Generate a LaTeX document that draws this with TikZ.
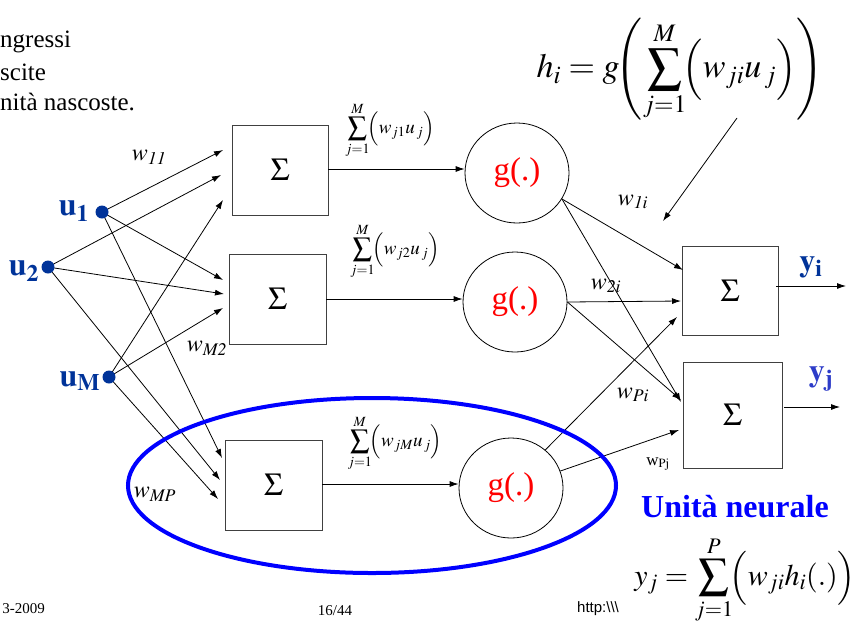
\documentclass[tikz,border=0pt]{standalone}
\usepackage{mathptmx}
\usepackage{fontspec}
\setmainfont{Liberation Serif}
\setsansfont{Liberation Sans}
\usetikzlibrary{arrows.meta,shapes.geometric,calc}
\definecolor{ublue}{RGB}{0,51,153}
\definecolor{yblue}{RGB}{45,60,200}
\begin{document}
\begin{tikzpicture}[x=1pt,y=-1pt,
  box/.style={draw=black!75,line width=1pt,minimum width=96pt,minimum height=90pt,inner sep=0pt,font=\fontsize{32}{34}\selectfont},
  gnode/.style={draw,ellipse,line width=0.8pt,minimum width=104pt,minimum height=100pt,inner sep=0pt,text=red,font=\fontsize{33}{35}\selectfont},
  conn/.style={line width=0.8pt,-{Latex[length=9pt,width=6pt]}},
  dot/.style={circle,fill=ublue,inner sep=0pt,minimum size=13pt},
  ulab/.style={text=ublue,font=\fontsize{32}{34}\selectfont,inner sep=0pt},
  wlab/.style={font=\fontsize{24}{26}\selectfont,inner sep=0pt},
  sumlab/.style={font=\fontsize{19}{22}\selectfont,inner sep=0pt},
  txt/.style={font=\fontsize{25}{27}\selectfont,inner sep=0pt},
  foot/.style={font=\fontsize{15}{17}\selectfont,inner sep=0pt},
]
\useasboundingbox (0,0) rectangle (858,622);
\clip (0,0) rectangle (858,622);

% top-left text
\node[txt,anchor=west] (t1) at (0,42) {ngressi};
\node[txt,anchor=west] (t2) at (0,72) {scite};
\node[txt,anchor=west] (t3) at (0,102) {nità nascoste.};

% input positions
\coordinate (u1) at (102,212);
\coordinate (u2) at (48,267);
\coordinate (uM) at (109,377);

% summation boxes
\node[box] (s1) at (280,170) {$\Sigma$};
\node[box,minimum width=97pt] (s2) at (277.5,299) {$\Sigma$};
\node[box,minimum width=97pt] (s3) at (273.5,485) {$\Sigma$};

% activation units
\node[gnode] (g1) at (517,173) {g(.)};
\node[gnode] (g2) at (515,302) {g(.)};
\node[gnode] (g3) at (511,488) {g(.)};

% output boxes
\node[box,minimum height=89pt] (si) at (730,290.5) {$\Sigma$};
\node[box,minimum width=99pt,minimum height=106pt] (sj) at (732.5,415) {$\Sigma$};

% arrow end points
\coordinate (c11) at (223,150);
\coordinate (c12) at (221,175);
\coordinate (c13) at (223,200);
\coordinate (c21) at (223,280);
\coordinate (c22) at (224,294);
\coordinate (c23) at (223,308);
\coordinate (c31) at (222,458);
\coordinate (c32) at (220,480);
\coordinate (c33) at (218,499);

\draw[conn] (u1) -- (c11);
\draw[conn] (u2) -- (c12);
\draw[conn] (uM) -- (c13);
\draw[conn] (u1) -- (c21);
\draw[conn] (u2) -- (c22);
\draw[conn] (uM) -- (c23);
\draw[conn] (u1) -- (c31);
\draw[conn] (u2) -- (c32);
\draw[conn] (uM) -- (c33);

% input dots and labels
\node[dot] (u1dot) at (u1) {};
\node[dot] (u2dot) at (u2) {};
\node[dot] (uMdot) at (uM) {};
\node[ulab] (u1lab) at (74,211) {$\mathbf{u}_{\mathbf{1}}$};
\node[ulab] (u2lab) at (24,271) {$\mathbf{u}_{\mathbf{2}}$};
\node[ulab] (uMlab) at (80,381) {$\mathbf{u}_{\mathbf{M}}$};

% box -> g
\coordinate (b1) at (328,169);
\coordinate (b2) at (326,299);
\coordinate (b3) at (322,484);
\draw[conn] (b1) -- (b1 -| g1.west);
\draw[conn] (b2) -- (b2 -| g2.west);
\draw[conn] (b3) -- (b3 -| g3.west);

% hidden -> output
\coordinate (d11) at (683,270);
\coordinate (d12) at (681,402);
\coordinate (d21) at (681,301);
\coordinate (d22) at (681,400);
\coordinate (d31) at (677,317);
\coordinate (d32) at (679,430);
\draw[conn] (g1.-30) -- (d11);
\draw[conn] (g1.-30) -- (d12);
\draw[conn] (g2.east) -- (d21);
\draw[conn] (g2.east) -- (d22);
\draw[conn] (g3.48) -- (d31);
\draw[conn] (g3.19) -- (d32);

% outputs
\coordinate (yis) at (776,286);
\coordinate (yie) at (846,286);
\coordinate (yjs) at (784,407);
\coordinate (yje) at (840,407);
\draw[conn] (yis) -- (yie);
\draw[conn] (yjs) -- (yje);
\node[ulab] (yilab) at (811,267) {$\mathbf{y}_{\mathbf{i}}$};
\node[ulab,text=yblue] (yjlab) at (821,379) {$\mathbf{y}_{\mathbf{j}}$};

% weight labels
\node[wlab] (w11) at (149,157) {$w_{\mathit{11}}$};
\node[wlab] (wM2) at (207,348) {$w_{\mathit{M2}}$};
\node[wlab] (wMP) at (155,494) {$w_{\mathit{MP}}$};
\node[wlab] (w1i) at (633,202) {$w_{\mathit{1i}}$};
\node[wlab] (w2i) at (606,286) {$w_{\mathit{2i}}$};
\node[wlab] (wPi) at (633,395) {$w_{\mathit{Pi}}$};
\node[font=\fontsize{17}{19}\selectfont,inner sep=0pt] (wPj) at (658,464) {w$_{\mathrm{Pj}}$};

% sum labels
\node[sumlab] (sum1) at (390,130) {$\displaystyle\sum_{j=1}^{M}\!\Bigl(w_{j1}u_{\,j}\Bigr)$};
\node[sumlab] (sum2) at (395,251) {$\displaystyle\sum_{j=1}^{M}\!\Bigl(w_{j2}u_{\,j}\Bigr)$};
\node[sumlab] (sum3) at (395,443) {$\displaystyle\sum_{j=1}^{M}\!\Bigl(w_{jM}u_{\,j}\Bigr)$};

% formulas
\node[font=\fontsize{34}{40}\selectfont,inner sep=0pt] (hform) at (680,70)
  {$\displaystyle h_i = g\!\Biggl(\sum_{j=1}^{M}\!\Bigl(w_{ji}u_{\,j}\Bigr)\Biggr)$};
\coordinate (hs) at (737,118);
\coordinate (he) at (663,221);
\draw[conn] (hs) -- (he);

\node[font=\fontsize{30}{34}\selectfont,inner sep=0pt] (yform) at (745,580)
  {$\displaystyle y_j = \sum_{j=1}^{P}\!\Bigl(w_{ji}h_i(.)\Bigr)$};

% neural unit
\node[draw=blue,line width=4pt,ellipse,minimum width=488pt,minimum height=175pt,inner sep=0pt] (unit) at (372,485.5) {};
\node[text=blue,font=\fontsize{32}{34}\selectfont\bfseries,inner sep=0pt] (unitlab) at (735,507) {Unità neurale};

% footer
\node[foot,anchor=east] (date) at (45,609) {3-2009};
\node[foot] (page) at (335,611) {16/44};
\node[foot,font=\sffamily\fontsize{15}{17}\selectfont,anchor=west] (url) at (577,609) {http:\textbackslash\textbackslash\textbackslash};
\end{tikzpicture}
\end{document}
